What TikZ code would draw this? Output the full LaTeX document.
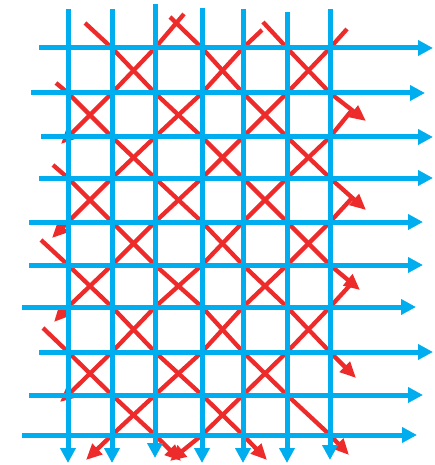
\documentclass[tikz,border=0pt]{standalone}
\usepackage{xcolor}
\definecolor{skyblue}{HTML}{00AEEF}
\definecolor{signalred}{HTML}{EE2B2B}
\usepackage{tikz}
\usetikzlibrary{arrows.meta}
\tikzset{lane/.style={-{Triangle[length=15pt,width=15pt]},draw=skyblue,line width=5pt},ray/.style={draw=signalred,line width=4.3pt,line join=round},rayarr/.style={ray,-{Triangle[length=16pt,width=14pt]}}}

\begin{document}
\begin{tikzpicture}[x=1pt,y=-1pt]
\useasboundingbox (0,0) rectangle (434,465);
% red, running down to the right
\draw[rayarr] (263,22)--(287,48)--(330,93)--(366,121);
\draw[rayarr] (170,17)--(202,48)--(243,93)--(287,137)--(330,178)--(366,210);
\draw[rayarr] (85,23)--(112,48)--(155,93)--(202,137)--(243,178)--(287,222)--(330,265)--(360,290);
\draw[rayarr] (56,83)--(68,93)--(112,137)--(155,178)--(202,222)--(243,265)--(287,307)--(330,352)--(356,378);
\draw[rayarr] (53,165)--(68,178)--(112,222)--(155,265)--(202,307)--(243,352)--(287,395)--(330,435)--(349,455);
\draw[rayarr] (41,240)--(68,265)--(112,307)--(155,352)--(202,395)--(243,435)--(267,460);
\draw[rayarr] (43,328)--(68,352)--(112,395)--(155,435)--(181,461);
% red, running down to the left
\draw[rayarr] (184,14)--(155,48)--(112,93)--(68,137)--(61,144);
\draw[rayarr] (262,30)--(243,48)--(202,93)--(155,137)--(112,178)--(68,222)--(52,238);
\draw[rayarr] (347,29)--(330,48)--(287,93)--(243,137)--(202,178)--(155,222)--(112,265)--(68,307)--(54,322);
\draw[rayarr] (352,110)--(330,137)--(287,178)--(243,222)--(202,265)--(155,307)--(112,352)--(68,395)--(60,402);
\draw[rayarr] (352,198)--(330,222)--(287,265)--(243,307)--(202,352)--(155,395)--(112,435)--(86,460);
\draw[rayarr] (352,283)--(330,307)--(287,352)--(243,395)--(202,435)--(170,461);
% blue columns
\draw[lane] (68,9)--(68,463);\draw[lane] (112,9)--(112,463);\draw[lane] (155,4)--(155,458);\draw[lane] (202,8)--(202,463);
\draw[lane] (243,9)--(243,463);\draw[lane] (287,12)--(287,463);\draw[lane] (330,9)--(330,460);
% blue rows
\draw[lane] (39,48)--(433,48);\draw[lane] (31,93)--(425,93);\draw[lane] (41,137)--(433,137);\draw[lane] (39,178)--(433,178);
\draw[lane] (29,222)--(423,222);\draw[lane] (29,265)--(423,265);\draw[lane] (22,307)--(416,307);
\draw[lane] (39,352)--(433,352);\draw[lane] (29,395)--(423,395);\draw[lane] (22,435)--(417,435);
\end{tikzpicture}
\end{document}
